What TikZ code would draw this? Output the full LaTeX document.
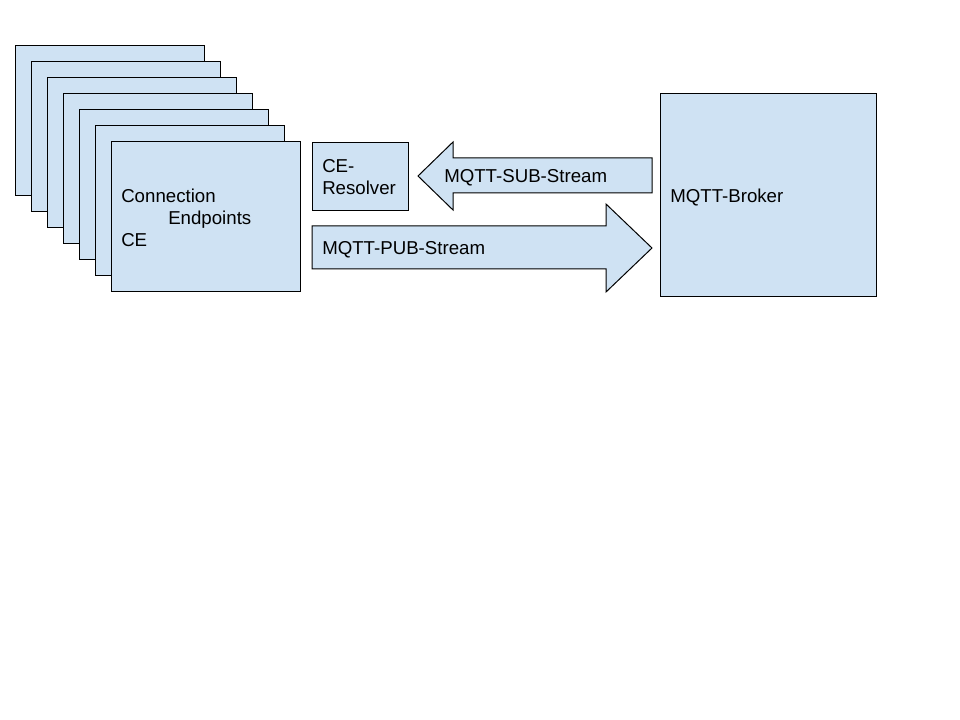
\documentclass[tikz,border=0pt]{standalone}
\usepackage{fontspec}
\setmainfont{Liberation Sans}
\definecolor{ceblue}{HTML}{CFE2F3}

\begin{document}
\begin{tikzpicture}[x=0.75pt, y=-0.75pt,
	box/.style={draw, fill=ceblue, line width=0.75pt, anchor=north west, inner sep=0pt},
	streamarrow/.style={draw, fill=ceblue, line width=0.75pt, line join=miter},
	lbl/.style={anchor=west, inner sep=0pt, align=left, font=\fontsize{14}{16.5}\selectfont}]
	\useasboundingbox (0,0) rectangle (960,720);
	% stack of connection endpoints
	\foreach \i in {0,...,6}
		\node[box, minimum width=141.75pt, minimum height=112.5pt] (ce\i) at ({15+16*\i}, {45+16*\i}) {};
	\node[lbl] (cetext) at (121, 218) {Connection\\\hspace*{35.25pt}Endpoints\\CE};
	% resolver and broker
	\node[box, minimum width=72pt, minimum height=51pt] (resolver) at (312, 142) {};
	\node[lbl] (restext) at (322, 177) {CE-\\Resolver};
	\node[box, minimum width=162pt, minimum height=152.25pt] (broker) at (660, 93) {};
	\node[lbl] (brokertext) at (670, 198) {MQTT-Broker};
	% streams
	\draw[streamarrow] (652, 158) -- (453, 158) -- (453, 142) -- (418, 176) -- (453, 210) -- (453, 193) -- (652, 193) -- cycle;
	\node[lbl] (subtext) at (444, 178) {MQTT-SUB-Stream};
	\draw[streamarrow] (312, 226) -- (606, 226) -- (606, 204) -- (652, 248) -- (606, 292) -- (606, 269) -- (312, 269) -- cycle;
	\node[lbl] (pubtext) at (322, 250) {MQTT-PUB-Stream};
\end{tikzpicture}
\end{document}
